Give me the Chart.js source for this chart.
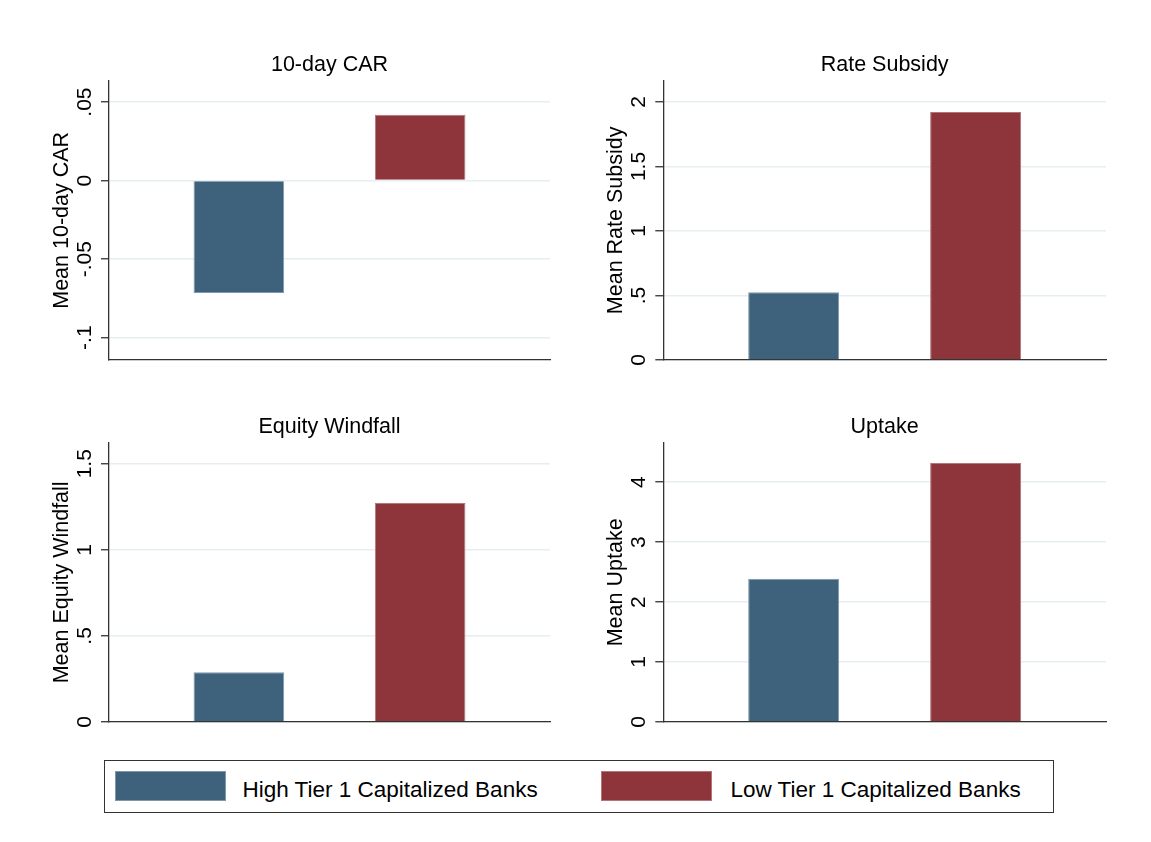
<!DOCTYPE html>
<html>
<head>
<meta charset="utf-8">
<script src="https://cdn.jsdelivr.net/npm/chart.js@4.4.0/dist/chart.umd.min.js"></script>
<style>
  body { margin: 0; background: #fff; width: 1151px; height: 842px; overflow: hidden; position: relative;
         font-family: "Liberation Sans", Arial, Helvetica, sans-serif; }
  canvas { position: absolute; }
  #legend { position: absolute; left: 104px; top: 760px; width: 950px; height: 53px;
            border: 1.5px solid #333; box-sizing: border-box; }
  .swatch { position: absolute; top: 10px; width: 111px; height: 30px; }
  .label { position: absolute; top: 13.5px; font-size: 22.5px; line-height: 30px; color: #000; white-space: nowrap; }
</style>
</head>
<body>
<canvas id="carChart" width="554" height="340" style="left:0;top:30px"></canvas>
<canvas id="subsidyChart" width="562" height="340" style="left:554px;top:30px"></canvas>
<canvas id="windfallChart" width="554" height="340" style="left:0;top:392px"></canvas>
<canvas id="uptakeChart" width="562" height="340" style="left:554px;top:392px"></canvas>
<div id="legend"></div>

<script>
// 그룹 (범례) 및 색상
const groups = ['High Tier 1 Capitalized Banks', 'Low Tier 1 Capitalized Banks'];
const groupColors = ['#3e627b', '#8e353c'];
const groupEdges = ['#7d97ab', '#b27479'];

// 패널별 평균값 [high, low]
const carMeans = [-0.0716, 0.042];
const subsidyMeans = [0.525, 1.922];
const windfallMeans = [0.289, 1.272];
const uptakeMeans = [2.39, 4.317];

// y축 눈금 및 라벨
const carTicks = [-0.1, -0.05, 0, 0.05];
const carTickLabels = ['-.1', '-.05', '0', '.05'];
const subsidyTicks = [0, 0.5, 1, 1.5, 2];
const subsidyTickLabels = ['0', '.5', '1', '1.5', '2'];
const windfallTicks = [0, 0.5, 1, 1.5];
const windfallTickLabels = ['0', '.5', '1', '1.5'];
const uptakeTicks = [0, 1, 2, 3, 4];
const uptakeTickLabels = ['0', '1', '2', '3', '4'];

// y축 범위
const carRange = [-0.1142, 0.0636];
const subsidyRange = [0, 2.165];
const windfallRange = [0, 1.622];
const uptakeRange = [0, 4.657];

const FONT = '"Liberation Sans", Arial, Helvetica, sans-serif';
const TICK_SIZE = 21;
const TITLE_SIZE = 21.5;
const TICK_LEN = 8;
const AXIS_INK = '#333';

Chart.defaults.font.family = FONT;
Chart.defaults.color = '#000';

// 회전된 눈금 라벨이 눈금에 맞도록 패딩 계산
function tickPadding(labels) {
    const ctx = document.createElement('canvas').getContext('2d');
    ctx.font = TICK_SIZE + 'px ' + FONT;
    const widest = Math.max(...labels.map(l => ctx.measureText(l).width));
    return 24 - TICK_LEN - widest / 2;
}

/**
 * 패널 하나 생성
 */
function makePanel(canvasId, title, yTitle, means, ticks, tickLabels, range, axisWidth, padRight) {
    const ctx = document.getElementById(canvasId).getContext('2d');
    return new Chart(ctx, {
        type: 'bar',
        data: {
            labels: [''],
            datasets: groups.map((g, i) => ({
                label: g,
                data: [means[i]],
                backgroundColor: groupColors[i],
                borderColor: groupEdges[i],
                borderWidth: 1,
                categoryPercentage: 0.822,
                barPercentage: 0.5
            }))
        },
        options: {
            responsive: false,
            animation: false,
            events: [],
            layout: { padding: { left: 0, right: padRight, top: 0, bottom: 10 } },
            plugins: {
                legend: { display: false },
                tooltip: { enabled: false },
                title: {
                    display: true,
                    text: title,
                    fullSize: false,
                    color: '#000',
                    font: { size: TITLE_SIZE, weight: 'normal' },
                    padding: { top: 22.1, bottom: 2.8 }
                }
            },
            scales: {
                x: {
                    type: 'category',
                    offset: true,
                    grid: { display: false, drawTicks: false },
                    ticks: { display: false },
                    border: { display: true, color: AXIS_INK, width: 1.3 },
                    afterFit: s => { s.height = 0; s.paddingLeft = 0; s.paddingRight = 0; }
                },
                y: {
                    min: range[0],
                    max: range[1],
                    afterBuildTicks: s => { s.ticks = ticks.map(v => ({ value: v })); },
                    afterFit: s => { s.width = axisWidth; s.paddingTop = 0; s.paddingBottom = 0; },
                    grid: {
                        color: '#e6eef1',
                        lineWidth: 1.5,
                        drawTicks: true,
                        tickLength: TICK_LEN,
                        tickColor: AXIS_INK,
                        tickWidth: 1.3
                    },
                    border: { display: true, color: AXIS_INK, width: 1.3 },
                    ticks: {
                        autoSkip: false,
                        minRotation: 90,
                        maxRotation: 90,
                        crossAlign: 'center',
                        padding: tickPadding(tickLabels),
                        font: { size: TICK_SIZE },
                        color: '#000',
                        callback: value => tickLabels[ticks.indexOf(value)]
                    },
                    title: {
                        display: true,
                        text: yTitle,
                        color: '#000',
                        font: { size: TITLE_SIZE },
                        padding: { top: axisWidth - 47 - TITLE_SIZE * 0.6, bottom: 0 }
                    }
                }
            }
        }
    });
}

makePanel('carChart', '10-day CAR', 'Mean 10-day CAR', carMeans, carTicks, carTickLabels, carRange, 109, 4);
makePanel('subsidyChart', 'Rate Subsidy', 'Mean Rate Subsidy', subsidyMeans, subsidyTicks, subsidyTickLabels, subsidyRange, 109.3, 10);
makePanel('windfallChart', 'Equity Windfall', 'Mean Equity Windfall', windfallMeans, windfallTicks, windfallTickLabels, windfallRange, 109, 4);
makePanel('uptakeChart', 'Uptake', 'Mean Uptake', uptakeMeans, uptakeTicks, uptakeTickLabels, uptakeRange, 109.3, 10);

// 공통 범례
const legend = document.getElementById('legend');
const swatchLeft = [10, 495.5];
const labelLeft = [137.5, 625.5];
groups.forEach((g, i) => {
    const sw = document.createElement('div');
    sw.className = 'swatch';
    sw.style.left = swatchLeft[i] + 'px';
    sw.style.background = groupColors[i];
    sw.style.outline = '1px solid ' + groupEdges[i];
    sw.style.outlineOffset = '-1px';
    legend.appendChild(sw);
    const lb = document.createElement('div');
    lb.className = 'label';
    lb.style.left = labelLeft[i] + 'px';
    lb.textContent = g;
    legend.appendChild(lb);
});
</script>
</body>
</html>
